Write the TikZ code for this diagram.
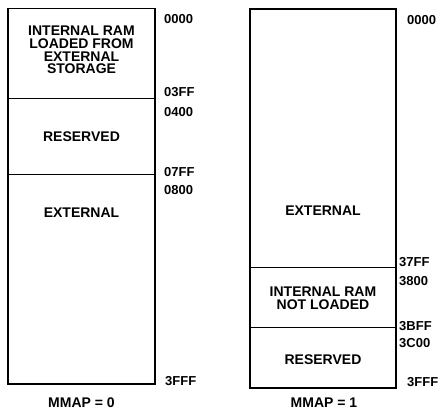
\documentclass[tikz,border=0pt]{standalone}
\usepackage{fontspec}
\setmainfont{Liberation Sans}
\begin{document}
\begin{tikzpicture}[x=1pt,y=-1pt,
  region/.style={font=\fontsize{14}{12.8}\selectfont\bfseries,align=center,inner sep=0pt},
  addr/.style={font=\fontsize{13}{13}\selectfont\bfseries,anchor=west,inner sep=0pt},
  outer/.style={line width=1.6pt},
  divider/.style={line width=1pt}]
\useasboundingbox (0,0) rectangle (444,411);
% left map
\draw[outer] (8,8.5) rectangle (155,384);
\draw[divider] (8,99) -- (155,99);
\draw[divider] (8,175) -- (155,175);
\node[region] (l1) at (81.5,50) {INTERNAL RAM\\LOADED FROM\\EXTERNAL\\STORAGE};
\node[region] (l2) at (81.5,137) {RESERVED};
\node[region] (l3) at (81.5,213) {EXTERNAL};
\node[region] (lcap) at (81.5,402.5) {MMAP = 0};
\node[addr] (a1) at (164,19) {0000};
\node[addr] (a2) at (164,92) {03FF};
\node[addr] (a3) at (164,112) {0400};
\node[addr] (a4) at (164,172) {07FF};
\node[addr] (a5) at (164,190) {0800};
\node[addr] (a6) at (165,381) {3FFF};
% right map
\draw[outer] (250,9) rectangle (396,388);
\draw[divider] (250,268) -- (396,268);
\draw[divider] (250,327) -- (396,327);
\node[region] (r1) at (323,211) {EXTERNAL};
\node[region] (r2) at (323,298) {INTERNAL RAM\\NOT LOADED};
\node[region] (r3) at (323,360) {RESERVED};
\node[region] (rcap) at (324,403) {MMAP = 1};
\node[addr] (b1) at (407,20) {0000};
\node[addr] (b2) at (399,262) {37FF};
\node[addr] (b3) at (399,281) {3800};
\node[addr] (b4) at (399,326) {3BFF};
\node[addr] (b5) at (399,343) {3C00};
\node[addr] (b6) at (407,382) {3FFF};
\end{tikzpicture}
\end{document}
